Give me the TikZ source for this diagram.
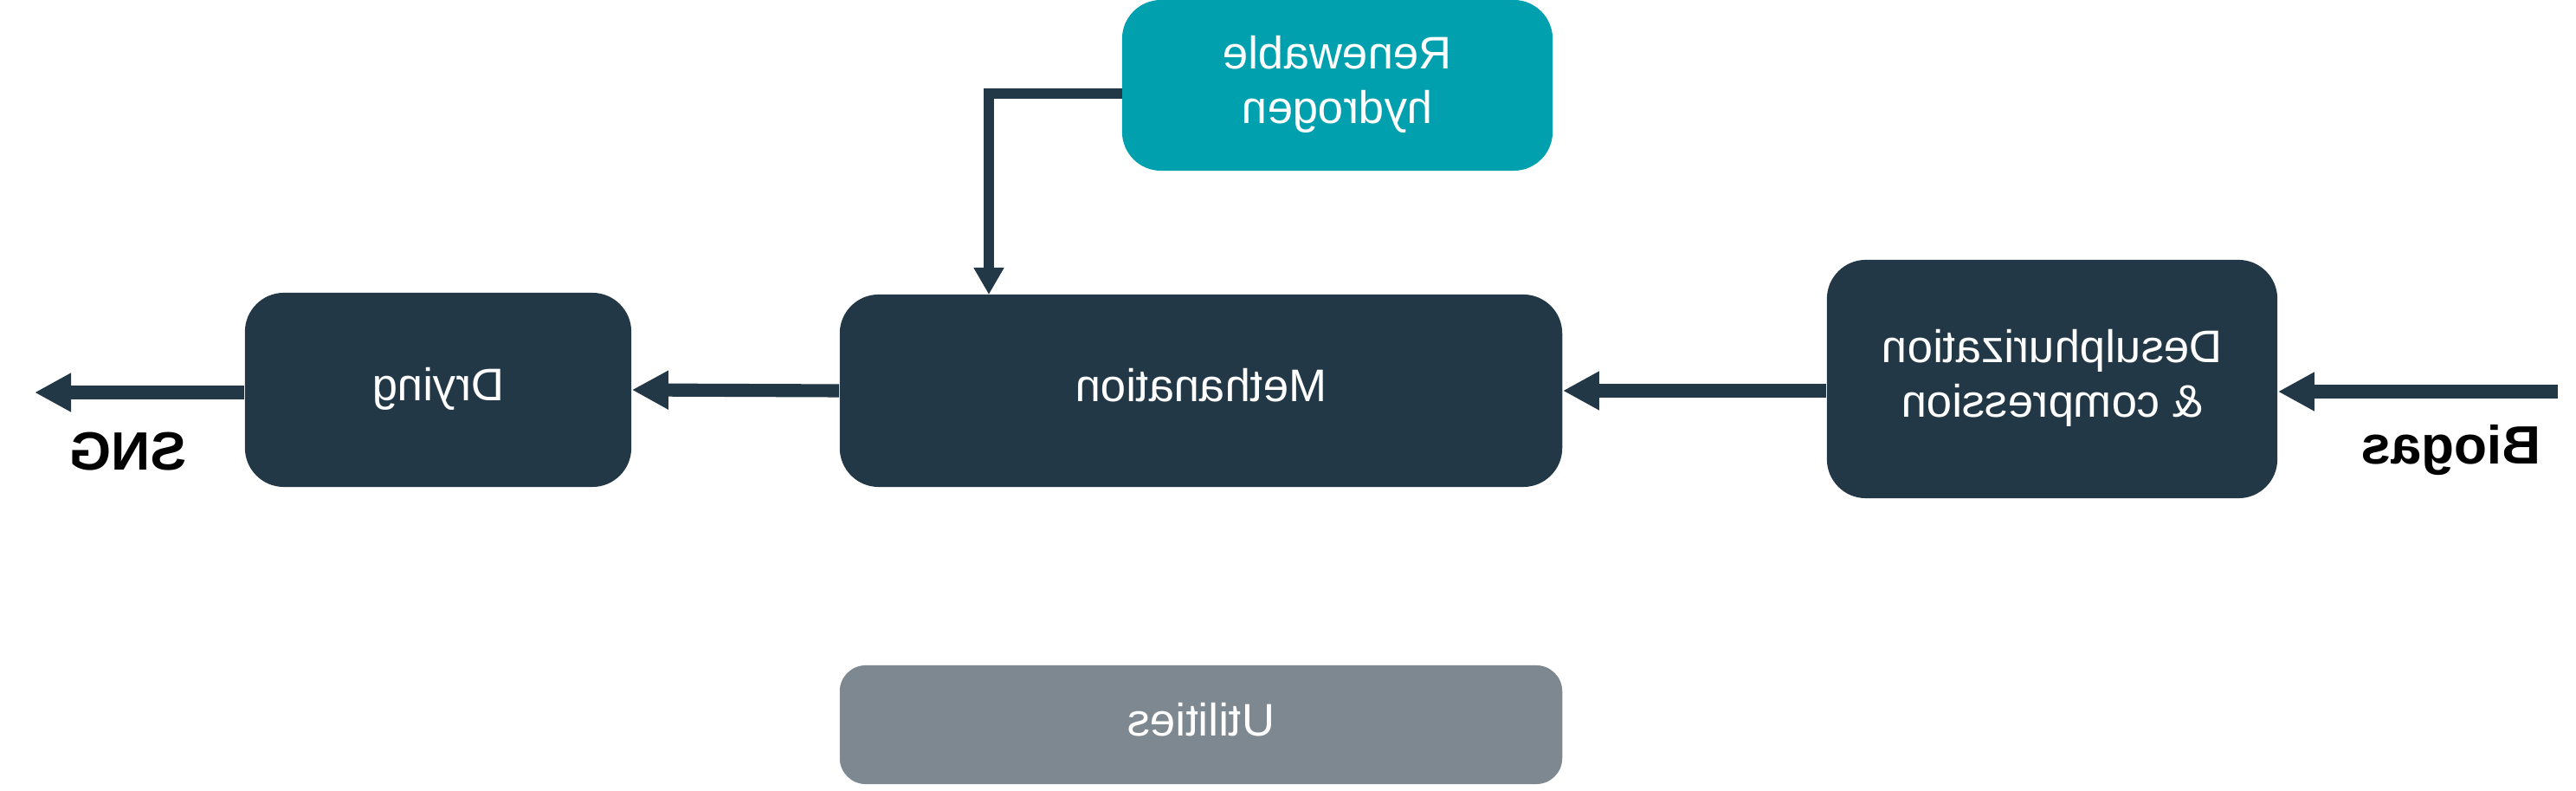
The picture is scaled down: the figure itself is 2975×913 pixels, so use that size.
\documentclass[tikz,border=0pt]{standalone}
\usepackage{graphicx}
\usepackage{fontspec}
\setmainfont{Liberation Sans}
\usetikzlibrary{arrows.meta}
\definecolor{dark}{HTML}{233846}
\definecolor{teal}{HTML}{00A0AE}
\definecolor{utilgray}{HTML}{7D8890}
\newcommand{\mir}[1]{\reflectbox{\begin{tabular}{@{}c@{}}#1\end{tabular}}}
\tikzset{
  box/.style={rounded corners=0.45cm, fill=dark, text=white, inner sep=0pt,
    font=\fontsize{15}{18}\selectfont},
  flow/.style={draw=dark, line width=4.3pt, -{Triangle[length=0.42cm,width=0.42cm]}},
  feed/.style={draw=dark, line width=3.2pt, line join=miter, -{Triangle[length=0.31cm,width=0.33cm]}},
  label/.style={font=\fontsize{17.7}{20}\selectfont\bfseries, text=black, inner sep=0pt}
}
\begin{document}
\begin{tikzpicture}[x=0.01cm, y=-0.01cm]
\useasboundingbox (0,0) rectangle (2975,913);
\node[box, fill=teal, minimum width=4.97cm, minimum height=1.97cm] (h2) at (1544.5,98.5) {\mir{Renewable\\hydrogen}};
\node[box, minimum width=8.34cm, minimum height=2.22cm] (meth) at (1387,451) {\mir{Methanation}};
\node[box, minimum width=4.46cm, minimum height=2.24cm] (dry) at (506,450) {\mir{Drying}};
\node[box, minimum width=5.20cm, minimum height=2.75cm] (des) at (2370,437.5) {\mir{Desulphurization\\\& compression}};
\node[box, fill=utilgray, rounded corners=0.3cm, minimum width=8.34cm, minimum height=1.37cm] (util) at (1387,836.5) {\mir{Utilities}};
\node[label] (sng) at (148,521) {\reflectbox{SNG}};
\node[label] (bio) at (2831,520) {\reflectbox{Biogas}};
\coordinate (biostart) at (2954,452);
\coordinate (sngend) at (40,453);
\coordinate (hin) at (1142,340);
\coordinate (hout) at (1296,108);
\draw[flow] (biostart) -- (biostart -| des.east);
\draw[flow] (des.west |- meth.east) -- (meth.east);
\draw[flow] (meth.west) -- (dry.east);
\draw[flow] (dry.west |- sngend) -- (sngend);
\draw[feed] (hout) -| (hin);
\end{tikzpicture}
\end{document}
